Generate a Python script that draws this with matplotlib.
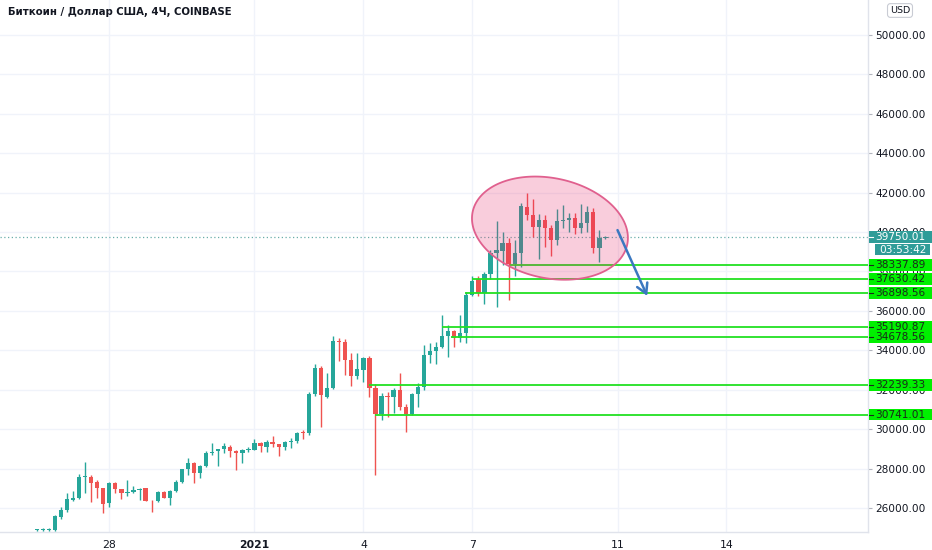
import numpy as np
import pandas as pd
import matplotlib
matplotlib.use("Agg")
import matplotlib.pyplot as plt
import matplotlib.dates as mdates
from matplotlib.patches import Rectangle, Polygon
from matplotlib.transforms import IdentityTransform

plt.rcParams['font.family'] = ['DejaVu Sans']

# ---------------- data (4H candles, BTC/USD Coinbase) ----------------
start_time = '2020-12-26 00:00'
opens = [24870, 24900, 24890, 24880, 25560, 25880, 26420, 26500, 27560, 27570,
         27330, 27000, 26230, 27250, 26950, 26760, 26810, 26920, 27000, 26380,
         26330, 26790, 26530, 26880, 27330, 27960, 28300, 27760, 28140, 28780,
         28880, 28980, 29110, 28910, 28810, 28950, 28950, 29310, 29110, 29360,
         29230, 29080, 29340, 29420, 29850, 29790, 31770, 33090, 31650, 32100,
         34470, 34410, 33510, 32710, 33000, 33600, 32080, 30760, 31700, 31650,
         31990, 31140, 30760, 31770, 32160, 33760, 33980, 34150, 34730, 35000,
         34610, 34900, 36810, 37600, 36920, 37870, 38920, 39060, 39460, 38380,
         38920, 41290, 40870, 40280, 40610, 40190, 39600, 40580, 40610, 40730,
         40220, 40450, 41040, 39180, 39690]
highs = [24950, 24960, 24960, 25650, 26050, 26760, 26850, 27750, 28350, 27650,
         27400, 27020, 27330, 27300, 26980, 27420, 27120, 27020, 27020, 26400,
         26870, 26850, 26920, 27400, 28000, 28560, 28350, 28200, 28880, 29310,
         29000, 29280, 29200, 28920, 29000, 29100, 29490, 29360, 29450, 29650,
         29250, 29400, 29540, 29860, 29960, 31870, 33290, 33200, 32870, 34740,
         34640, 34580, 33850, 33850, 33650, 33700, 32280, 31820, 31900, 32100,
         32830, 31300, 31850, 32330, 34270, 34360, 34440, 35790, 35290, 35050,
         35790, 36950, 37770, 37770, 37990, 39090, 40580, 40010, 39680, 39590,
         41460, 41970, 41700, 40920, 40870, 40350, 41150, 41370, 40950, 40950,
         41420, 41300, 41200, 40100, 39800]
lows = [24840, 24850, 24850, 24850, 25450, 25800, 26350, 26480, 26760, 26320,
        26500, 25740, 26050, 26750, 26440, 26600, 26780, 26390, 26360, 25790,
        26300, 26500, 26150, 26820, 27250, 27680, 27280, 27500, 28100, 28700,
        28150, 28780, 28570, 27930, 28270, 28840, 28920, 28860, 28860, 29080,
        28640, 28940, 29030, 29280, 29490, 29700, 31700, 30120, 31600, 32050,
        33460, 32750, 32200, 32550, 32410, 31650, 27680, 30460, 30630, 30800,
        30950, 29870, 30700, 31140, 32000, 33340, 33310, 34100, 33680, 34150,
        34440, 34360, 36750, 36760, 36350, 37600, 36210, 38330, 36550, 37770,
        38210, 40610, 39760, 38620, 39260, 38790, 39350, 40210, 40020, 39900,
        39950, 40000, 38960, 38500, 39650]
closes = [24900, 24920, 24930, 25600, 25900, 26440, 26520, 27570, 27600, 27280,
          27000, 26220, 27250, 26940, 26760, 26820, 26910, 26980, 26380, 26340,
          26810, 26530, 26880, 27340, 27960, 28300, 27760, 28140, 28780, 28860,
          28970, 29150, 28910, 28810, 28950, 29000, 29310, 29150, 29360, 29250,
          29080, 29360, 29400, 29790, 29810, 31770, 33090, 31730, 32080, 34470,
          34410, 33510, 32710, 33050, 33600, 32080, 30760, 31700, 31640, 31990,
          31140, 30760, 31770, 32160, 33760, 33980, 34150, 34730, 35000, 34610,
          34870, 36800, 37530, 36900, 37870, 38920, 39090, 39460, 38380, 38920,
          41330, 40870, 40270, 40610, 40190, 39600, 40580, 40620, 40730, 40190,
          40470, 41040, 39180, 39680, 39750]

support_levels = [38337.89, 37630.42, 36898.56, 35190.87, 34678.56, 32239.33, 30741.01]
support_starts = ['2021-01-08 01:00', '2021-01-07 00:00', '2021-01-06 19:00',
                  '2021-01-06 04:00', '2021-01-06 10:00', '2021-01-04 04:00',
                  '2021-01-04 08:00']
last_price = 39750.01
timer_text = '03:53:42'
price_ticks = list(range(26000, 50001, 2000))
date_ticks = ['2020-12-28', '2021-01-01', '2021-01-04', '2021-01-07', '2021-01-11', '2021-01-14']
date_labels = ['28', '2021', '4', '7', '11', '14']
title = 'Биткоин / Доллар США, 4Ч, COINBASE'
arrow_from = ('2021-01-11 00:00', 40100)
arrow_to = ('2021-01-11 19:40', 36760)
ellipse_center = ('2021-01-09 03:20', 40200)

# ---------------- figure ----------------
W, H = 932, 550
fig = plt.figure(figsize=(W / 100, H / 100), dpi=100)
fig.patch.set_facecolor('white')
ax = fig.add_axes([0, 18.3 / H, 868 / W, 531.7 / H])

base = mdates.date2num(pd.Timestamp('2021-01-01'))
ax.set_xlim(base - 7.01, base + 16.9)
ax.set_ylim(24797, 51776)

UP, DOWN = '#26a69a', '#ef5350'
times = mdates.date2num(pd.date_range(start_time, periods=len(opens), freq='4h'))
o = np.array(opens, float); h = np.array(highs, float)
l = np.array(lows, float); c = np.array(closes, float)
cols = np.where(c >= o, UP, DOWN)
ax.vlines(times, l, h, colors=cols, lw=1.0, zorder=3)
bottoms = np.minimum(o, c)
heights = np.maximum(np.abs(c - o), 40)
ax.bar(times, heights, bottom=bottoms, width=4.3 / 36.3, color=cols, zorder=4, linewidth=0)

# grid & axes styling
ax.set_yticks(price_ticks)
ax.yaxis.set_major_formatter(matplotlib.ticker.FormatStrFormatter('%.2f'))
ax.yaxis.tick_right()
ax.set_xticks([mdates.date2num(pd.Timestamp(d)) for d in date_ticks])
ax.set_xticklabels(date_labels)
for lab in ax.get_xticklabels():
    if lab.get_text() == '2021':
        lab.set_fontweight('bold')
ax.tick_params(axis='y', length=3, width=0.8, color='#b2b5be', pad=2,
               labelsize=7.6, labelcolor='#131722')
ax.tick_params(axis='x', length=0, pad=6, labelsize=7.8, labelcolor='#131722')
ax.grid(True, color='#f0f3fa', lw=1.0, zorder=0)
ax.set_axisbelow(True)
for s in ['top', 'left']:
    ax.spines[s].set_visible(False)
for s in ['right', 'bottom']:
    ax.spines[s].set_color('#e0e3eb')
    ax.spines[s].set_linewidth(1.0)

# last price dotted line
ax.axhline(last_price, color='#6aaeaa', lw=0.9, ls=(0, (1, 2)), zorder=2)

# support lines
xr = ax.get_xlim()[1]
for lv, st in zip(support_levels, support_starts):
    ax.hlines(lv, mdates.date2num(pd.Timestamp(st)), xr, color='#22e022', lw=1.3, zorder=5)

# ellipse (built in screen space so it keeps its tilt)
cx = mdates.date2num(pd.Timestamp(ellipse_center[0]))
cdisp = ax.transData.transform((cx, ellipse_center[1]))
th = np.linspace(0, 2 * np.pi, 200)
a, b, ang = 79.0, 50.0, np.deg2rad(-12)
ex = a * np.cos(th); ey = b * np.sin(th)
px = cdisp[0] + ex * np.cos(ang) - ey * np.sin(ang)
py = cdisp[1] + ex * np.sin(ang) + ey * np.cos(ang)
pts = ax.transData.inverted().transform(np.column_stack([px, py]))
ax.add_patch(Polygon(pts, closed=True, facecolor=(0.91, 0.12, 0.39, 0.22),
                     edgecolor='#e0608e', lw=1.3, zorder=6))

# arrow
ax.annotate('', xy=(mdates.date2num(pd.Timestamp(arrow_to[0])), arrow_to[1]),
            xytext=(mdates.date2num(pd.Timestamp(arrow_from[0])), arrow_from[1]),
            arrowprops=dict(arrowstyle='->,head_length=0.7,head_width=0.4',
                            color='#3b78c0', lw=1.8, shrinkA=0, shrinkB=0), zorder=7)

# ---------------- right-side price labels ----------------
idt = IdentityTransform()

def price_label(price, text, bg, fg, x0=869, hh=11.5):
    yd = ax.transData.transform((base, price))[1]
    fig.patches.append(Rectangle((x0, yd - hh / 2), W - x0, hh, transform=idt,
                                 facecolor=bg, edgecolor='none', zorder=5, figure=fig))
    fig.lines.append(matplotlib.lines.Line2D([869, 873], [yd, yd], transform=idt,
                                             color=fg, lw=0.8, zorder=6, figure=fig))
    fig.text(900 / W, yd / H, text, ha='center', va='center', fontsize=7.6,
             color=fg, zorder=7)
    return yd

for lv in support_levels:
    price_label(lv, f'{lv:.2f}', '#00f000', '#1a2a1a')

yd = price_label(last_price, f'{last_price:.2f}', '#2f9c98', 'white')
fig.patches.append(Rectangle((875, yd - 6 - 12), W - 875 - 2, 11, transform=idt,
                             facecolor='#2f9c98', edgecolor='none', zorder=5, figure=fig))
fig.text(903 / W, (yd - 12.5) / H, timer_text, ha='center', va='center',
         fontsize=7.6, color='white', zorder=7)

# title and currency badge
fig.text(8 / W, 1 - 12 / H, title, ha='left', va='center', fontsize=7.3,
         fontweight='bold', color='#131722')
fig.text(900 / W, 1 - 10.5 / H, 'USD', ha='center', va='center', fontsize=6.8,
         color='#131722',
         bbox=dict(boxstyle='round,pad=0.25,rounding_size=0.3', facecolor='white',
                   edgecolor='#c9ccd4', lw=0.8))

fig.savefig('out.png', dpi=100, facecolor='white')
